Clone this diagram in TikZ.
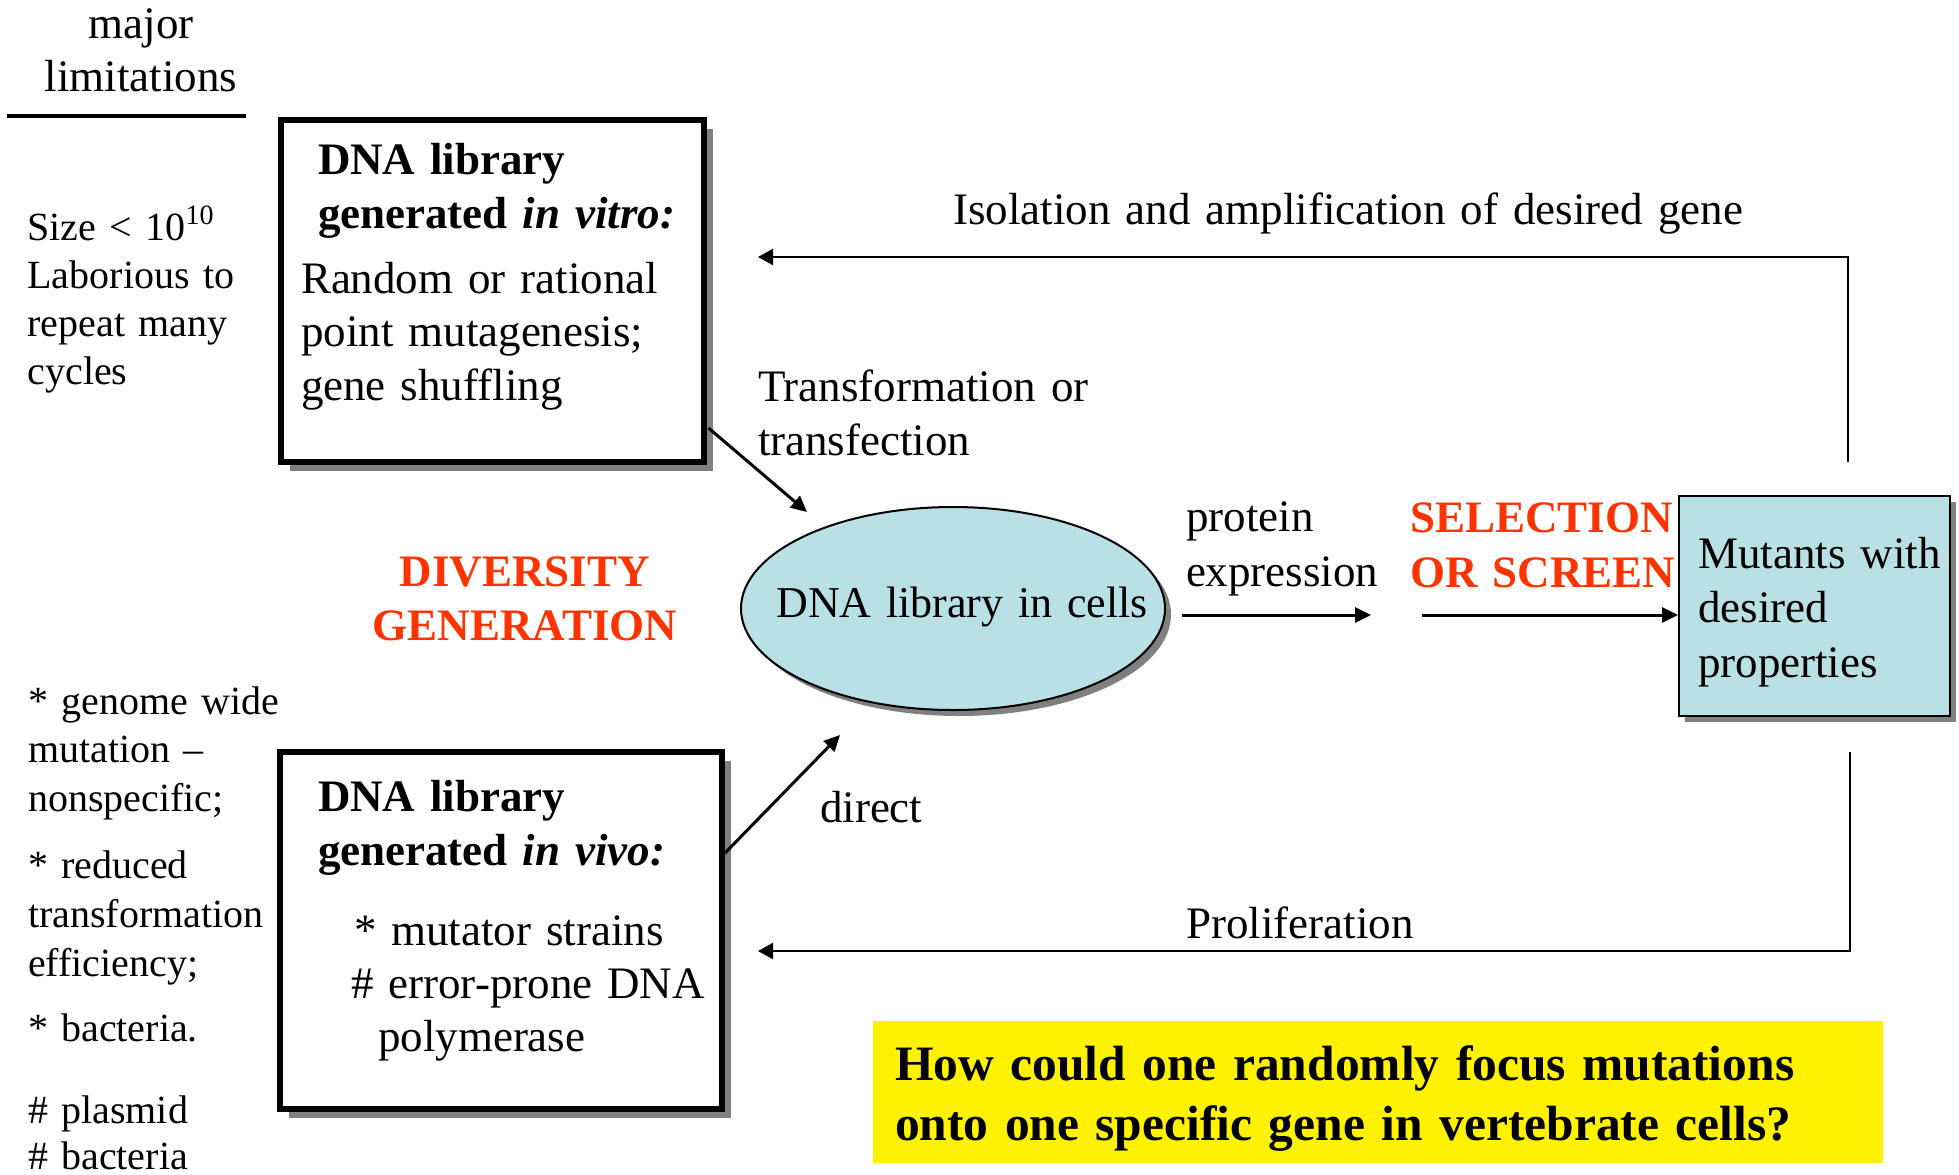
\documentclass[tikz,border=0pt]{standalone}
\usepackage{fontspec}
\setmainfont{Liberation Serif}
\usetikzlibrary{arrows.meta,shapes.geometric,shadows,calc}
\definecolor{cellblue}{RGB}{185,224,228}
\definecolor{hired}{RGB}{255,51,0}
\definecolor{shgray}{RGB}{128,128,128}
\newcommand\fsz[1]{\fontsize{22.5pt}{#1pt}\selectfont}
\newcommand\fsm[1]{\fontsize{20pt}{#1pt}\selectfont}
\begin{document}
\begin{tikzpicture}[x=0.5pt,y=-0.5pt,
  txt/.style={inner sep=0pt, outer sep=0pt, anchor=base west, align=left, text width=#1},
  txt/.default=200pt,
  ctxt/.style={inner sep=0pt, outer sep=0pt, anchor=base, align=center, text width=#1},
  ctxt/.default=200pt,
  thickbox/.style={draw, line width=3pt, fill=white, inner sep=0pt,
    drop shadow={shadow xshift=4.5pt, shadow yshift=-4.5pt, fill=shgray, opacity=1}},
  bluebox/.style={draw, line width=1pt, fill=cellblue, inner sep=0pt,
    drop shadow={shadow xshift=3pt, shadow yshift=-3pt, fill=shgray, opacity=1}},
  arr/.style={line width=1.5pt, -{Triangle[length=8pt,width=7.5pt]}},
  fb/.style={line width=1pt, -{Triangle[length=7.5pt,width=8pt]}},
  hilite/.style={text=hired, font=\fsz{27}\bfseries}
]
\useasboundingbox (0,0) rectangle (1959,1174);

% ---- boxes and shapes ----
\node[thickbox, minimum width=211.5pt, minimum height=171pt] (vitro) at (492.5,291) {};
\node[thickbox, minimum width=221pt, minimum height=178.5pt] (vivo) at (501,930.5) {};
\node[bluebox, ellipse, minimum width=212pt, minimum height=101.5pt] (cells) at (953,608.5) {};
\node[bluebox, minimum width=135.5pt, minimum height=110pt] (mutants) at (1814.5,606) {};
\node[fill=yellow, inner sep=0pt, minimum width=505pt, minimum height=71pt] (ybox) at (1378,1092) {};

% ---- left column ----
\node[ctxt=150pt, font=\fsz{26.5}] (major) at (141,38) {major\\limitations};
\draw[line width=2pt] (7,116) -- (246,116);
\node[txt=150pt, font=\fsm{24}] (lim1) at (27.5,240) {Size < 10\textsuperscript{10}\\Laborious to\\repeat many\\cycles};
\node[txt=150pt, font=\fsm{24.2}] (lim2) at (28,714.5) {* genome wide\\mutation \textendash\\nonspecific;};
\node[txt=150pt, font=\fsm{24.5}] (lim3) at (28,878) {* reduced\\transformation\\efficiency;};
\node[txt=150pt, font=\fsm{24}] (lim4) at (28,1041) {* bacteria.};
\node[txt=150pt, font=\fsm{23}] (lim5) at (28,1123) {\# plasmid\\\# bacteria};

% ---- box texts ----
\node[txt=200pt, font=\fsz{27}\bfseries] (vitrotitle) at (318,174) {DNA library\\generated \textit{in vitro:}};
\node[txt=200pt, font=\fsz{26.75}] (vitrobody) at (301,293) {Random or rational\\point mutagenesis;\\gene shuffling};
\node[ctxt=200pt, hilite] (divgen) at (525,586) {DIVERSITY\\GENERATION};
\node[txt=200pt, font=\fsz{27}\bfseries] (vivotitle) at (318,811) {DNA library\\generated \textit{in vivo:}};
\node[txt=200pt, font=\fsz{26.5}] (vivobody) at (351,945) {\hspace*{1.5pt}* mutator strains\\\# error-prone DNA\\\hspace*{13.5pt}polymerase};
\node[ctxt=220pt, font=\fontsize{22pt}{27pt}\selectfont] (cellstxt) at (962,617) {DNA library in cells};
\node[txt=130pt, font=\fsz{27.25}] (mutxt) at (1698,568) {Mutants with\\desired\\properties};
\node[txt=520pt, font=\fontsize{24.75pt}{30pt}\selectfont\bfseries] (question) at (895,1080) {How could one randomly focus mutations\\onto one specific gene in vertebrate cells?};

% ---- connector labels ----
\node[txt=200pt, font=\fsz{27}] (transf) at (758,401) {Transformation or\\transfection};
\node[txt=100pt, font=\fsz{27}] (direct) at (820,822) {direct};
\node[txt=130pt, font=\fsz{27.5}] (protexp) at (1186,531) {protein\\expression};
\node[txt=140pt, hilite, font=\fsz{27.5}\bfseries] (selscr) at (1410,532) {SELECTION\\OR SCREEN};
\node[ctxt=420pt, font=\fsz{27}] (isol) at (1348,224) {Isolation and amplification of desired gene};
\node[ctxt=200pt, font=\fsz{27}] (prolif) at (1300,938) {Proliferation};

% ---- connectors ----
\coordinate (tin) at (807,512);
\coordinate (din) at (840,735);
\draw[arr] ($(vitro.south east)+(1.5,-37)$) -- (tin);
\draw[arr] ($(vivo.north east)+(0,104)$) -- (din);
\coordinate (pe1) at (1182,615);
\coordinate (pe2) at (1371,615);
\draw[arr] (pe1) -- (pe2);
\coordinate (se1) at (1422,615);
\draw[arr] (se1) -- (se1 -| mutants.west);
\coordinate (fbA) at (1848,462);
\coordinate (fbAend) at (758,257);
\draw[fb] (fbA) |- (fbAend);
\coordinate (fbB) at (1850,752);
\coordinate (fbBend) at (758,951);
\draw[fb] (fbB) |- (fbBend);
\end{tikzpicture}
\end{document}
